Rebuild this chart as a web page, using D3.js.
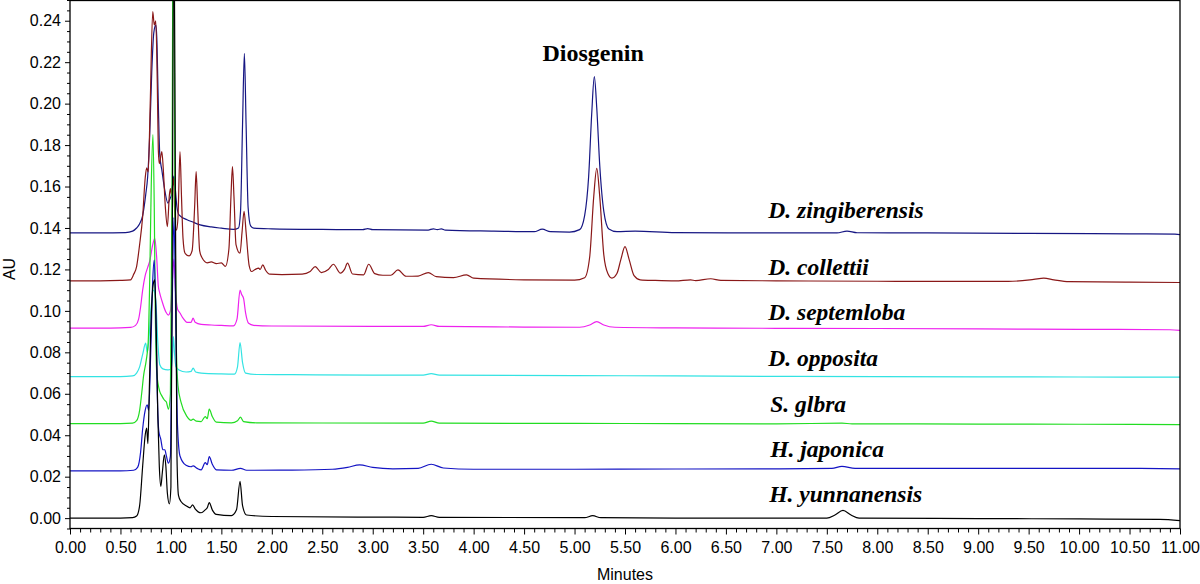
<!DOCTYPE html>
<html>
<head>
<meta charset="utf-8">
<script src="https://cdn.jsdelivr.net/npm/d3@7"></script>
<style>
  body { margin: 0; background: #fff; }
  svg { display: block; }
</style>
</head>
<body>
<svg id="chart" width="1200" height="584"></svg>
<script>
// ---------------- DATA ----------------
const seriesNames = ["D. zingiberensis", "D. collettii", "D. septemloba", "D. opposita", "S. glbra", "H. japonica", "H. yunnanensis"];

// [minutes, AU]
const zingiberensis = [[0,0.1376],[0.3,0.1376],[0.55,0.1378],[0.62,0.1385],[0.66,0.1400],[0.69,0.1420],[0.72,0.1460],[0.75,0.1560],[0.77,0.1650],[0.79,0.1850],[0.81,0.2150],[0.83,0.2340],[0.85,0.2380],[0.86,0.2320],[0.875,0.2000],[0.89,0.1750],[0.91,0.1680],[0.94,0.1580],[0.97,0.1520],[0.99,0.1540],[1.005,0.1560],[1.02,0.1620],[1.03,0.1650],[1.045,0.1580],[1.06,0.1500],[1.08,0.1463],[1.16,0.1440],[1.21,0.1430],[1.29,0.1415],[1.40,0.1405],[1.50,0.1399],[1.62,0.1393],[1.67,0.1400],[1.69,0.1480],[1.71,0.1900],[1.728,0.2243],[1.745,0.1900],[1.765,0.1500],[1.79,0.1410],[1.82,0.1399],[2.0,0.1396],[2.5,0.1393],[2.9,0.1392],[2.95,0.1397],[3.0,0.1392],[3.55,0.1390],[3.6,0.1396],[3.64,0.1392],[3.68,0.1396],[3.72,0.1390],[4.2,0.1385],[4.6,0.1382],[4.68,0.1394],[4.76,0.1382],[4.95,0.1380],[5.05,0.1392],[5.10,0.1460],[5.14,0.1650],[5.17,0.1950],[5.196,0.2130],[5.22,0.1980],[5.25,0.1700],[5.29,0.1480],[5.34,0.1395],[5.42,0.1382],[5.6,0.1385],[6.0,0.1378],[7.0,0.1376],[7.6,0.1376],[7.70,0.1385],[7.80,0.1377],[8.5,0.1376],[9.5,0.1374],[10.5,0.1372],[10.95,0.1370],[11.0,0.1368]];

const collettii = [[0,0.1145],[0.3,0.1145],[0.5,0.1147],[0.60,0.1150],[0.63,0.1175],[0.66,0.1214],[0.69,0.1320],[0.72,0.1455],[0.745,0.1640],[0.76,0.1690],[0.775,0.1670],[0.795,0.2000],[0.82,0.2444],[0.835,0.2380],[0.85,0.2400],[0.865,0.2100],[0.875,0.1780],[0.885,0.1710],[0.91,0.1768],[0.925,0.1680],[0.945,0.1500],[0.965,0.1407],[0.985,0.1560],[0.995,0.1590],[1.005,0.1560],[1.015,0.1600],[1.025,0.1640],[1.04,0.1450],[1.055,0.1390],[1.07,0.1450],[1.09,0.1768],[1.105,0.1550],[1.12,0.1350],[1.14,0.1278],[1.18,0.1265],[1.21,0.1290],[1.235,0.1500],[1.25,0.1672],[1.265,0.1500],[1.285,0.1290],[1.31,0.1255],[1.36,0.1232],[1.40,0.1236],[1.45,0.1228],[1.50,0.1232],[1.54,0.1215],[1.575,0.1300],[1.595,0.1550],[1.61,0.1696],[1.625,0.1550],[1.645,0.1320],[1.685,0.1278],[1.705,0.1380],[1.725,0.1480],[1.745,0.1380],[1.775,0.1220],[1.80,0.1190],[1.835,0.1200],[1.87,0.1206],[1.885,0.1200],[1.91,0.1222],[1.94,0.1195],[1.98,0.1177],[2.1,0.1175],[2.3,0.1177],[2.38,0.1190],[2.43,0.1214],[2.49,0.1185],[2.56,0.1200],[2.61,0.1225],[2.68,0.1182],[2.72,0.1200],[2.75,0.1230],[2.80,0.1178],[2.91,0.1174],[2.96,0.1225],[3.02,0.1180],[3.10,0.1172],[3.18,0.1172],[3.25,0.1198],[3.33,0.1167],[3.45,0.1168],[3.55,0.1185],[3.63,0.1165],[3.80,0.1160],[3.93,0.1174],[4.0,0.1158],[4.5,0.1150],[5.0,0.1148],[5.10,0.1160],[5.15,0.1260],[5.19,0.1550],[5.22,0.1688],[5.25,0.1550],[5.29,0.1270],[5.33,0.1180],[5.37,0.1158],[5.42,0.1180],[5.46,0.1250],[5.50,0.1310],[5.54,0.1250],[5.59,0.1170],[5.65,0.1150],[5.8,0.1147],[6.0,0.1145],[6.15,0.1150],[6.2,0.1146],[6.35,0.1155],[6.45,0.1147],[7.0,0.1145],[8.0,0.1143],[9.3,0.1142],[9.55,0.1152],[9.65,0.1158],[9.75,0.1150],[9.9,0.1141],[10.5,0.1139],[11.0,0.1137]];

const septemloba = [[0,0.0917],[0.4,0.0917],[0.6,0.0920],[0.65,0.0930],[0.68,0.0960],[0.70,0.1020],[0.72,0.1100],[0.745,0.1170],[0.77,0.1210],[0.79,0.1240],[0.82,0.1320],[0.84,0.1350],[0.86,0.1250],[0.875,0.1120],[0.89,0.1085],[0.91,0.1050],[0.95,0.0995],[0.975,0.0980],[0.995,0.1000],[1.015,0.1150],[1.03,0.1250],[1.045,0.1100],[1.065,0.1010],[1.09,0.0990],[1.12,0.0965],[1.16,0.0945],[1.20,0.0945],[1.22,0.0965],[1.24,0.0945],[1.30,0.0935],[1.40,0.0932],[1.50,0.0930],[1.62,0.0928],[1.655,0.0960],[1.685,0.1100],[1.70,0.1080],[1.72,0.1060],[1.74,0.0990],[1.77,0.0940],[1.82,0.0930],[2.0,0.0927],[3.0,0.0925],[3.5,0.0925],[3.58,0.0933],[3.66,0.0925],[4.5,0.0922],[5.05,0.0921],[5.15,0.0932],[5.22,0.0948],[5.29,0.0932],[5.4,0.0921],[6.0,0.0918],[7.0,0.0916],[8.0,0.0915],[9.0,0.0913],[10.0,0.0911],[10.9,0.0909],[11.0,0.0906]];

const opposita = [[0,0.0683],[0.5,0.0683],[0.62,0.0686],[0.66,0.0700],[0.69,0.0730],[0.72,0.0790],[0.75,0.0844],[0.765,0.0800],[0.78,0.0850],[0.80,0.1000],[0.83,0.1100],[0.85,0.1050],[0.87,0.0850],[0.89,0.0740],[0.92,0.0720],[0.97,0.0715],[1.0,0.0720],[1.015,0.0780],[1.025,0.0876],[1.035,0.0800],[1.05,0.0730],[1.08,0.0715],[1.15,0.0705],[1.2,0.0708],[1.22,0.0724],[1.245,0.0705],[1.30,0.0700],[1.50,0.0696],[1.63,0.0695],[1.66,0.0730],[1.685,0.0847],[1.71,0.0750],[1.74,0.0700],[1.85,0.0693],[2.2,0.0692],[3.0,0.0690],[3.5,0.0690],[3.58,0.0697],[3.66,0.0690],[5.0,0.0688],[6.0,0.0686],[7.0,0.0684],[8.0,0.0683],[9.0,0.0682],[10.0,0.0681],[11.0,0.0680]];

const glbra = [[0,0.0456],[0.5,0.0456],[0.62,0.0458],[0.66,0.0470],[0.69,0.0520],[0.71,0.0600],[0.73,0.0690],[0.755,0.0760],[0.775,0.0850],[0.79,0.1150],[0.805,0.1600],[0.822,0.1850],[0.835,0.1500],[0.845,0.1000],[0.86,0.0700],[0.89,0.0610],[0.91,0.0590],[0.935,0.0570],[0.955,0.0560],[0.975,0.0526],[0.995,0.0600],[1.01,0.1500],[1.025,0.3200],[1.04,0.1500],[1.055,0.0800],[1.07,0.0640],[1.10,0.0560],[1.16,0.0490],[1.20,0.0472],[1.22,0.0478],[1.25,0.0468],[1.30,0.0466],[1.34,0.0490],[1.36,0.0480],[1.38,0.0526],[1.41,0.0490],[1.45,0.0463],[1.60,0.0460],[1.66,0.0470],[1.69,0.0487],[1.72,0.0466],[1.85,0.0460],[2.5,0.0459],[3.5,0.0458],[3.58,0.0468],[3.66,0.0458],[5.0,0.0457],[6.0,0.0456],[7.0,0.0455],[7.65,0.0458],[7.75,0.0455],[9.0,0.0454],[10.0,0.0453],[11.0,0.0451]];

const japonica = [[0,0.0228],[0.5,0.0228],[0.63,0.0231],[0.67,0.0245],[0.70,0.0320],[0.72,0.0430],[0.745,0.0520],[0.765,0.0547],[0.78,0.0520],[0.80,0.0800],[0.82,0.1150],[0.835,0.1245],[0.85,0.1000],[0.865,0.0600],[0.88,0.0420],[0.90,0.0380],[0.92,0.0330],[0.94,0.0330],[0.955,0.0300],[0.975,0.0265],[0.995,0.0300],[1.01,0.0900],[1.03,0.1450],[1.05,0.0900],[1.065,0.0450],[1.09,0.0300],[1.15,0.0255],[1.20,0.0248],[1.22,0.0252],[1.26,0.0240],[1.30,0.0233],[1.34,0.0268],[1.36,0.0258],[1.38,0.0297],[1.41,0.0260],[1.45,0.0233],[1.60,0.0231],[1.69,0.0240],[1.75,0.0231],[2.2,0.0232],[2.6,0.0236],[2.75,0.0245],[2.87,0.0257],[3.0,0.0245],[3.2,0.0238],[3.45,0.0240],[3.58,0.0260],[3.70,0.0242],[4.0,0.0236],[5.0,0.0236],[6.0,0.0237],[7.0,0.0238],[7.55,0.0240],[7.65,0.0250],[7.78,0.0240],[8.5,0.0240],[9.5,0.0240],[10.5,0.0240],[11.0,0.0238]];

const yunnanensis = [[0,0.0],[0.5,0.0],[0.62,0.0002],[0.66,0.0010],[0.69,0.0060],[0.72,0.0250],[0.745,0.0400],[0.76,0.0434],[0.772,0.0360],[0.785,0.0600],[0.80,0.0900],[0.825,0.1130],[0.84,0.1150],[0.855,0.0900],[0.87,0.0500],[0.885,0.0250],[0.90,0.0153],[0.915,0.0220],[0.935,0.0305],[0.95,0.0250],[0.965,0.0120],[0.985,0.0069],[1.0,0.0150],[1.015,0.1500],[1.03,0.3000],[1.045,0.1500],[1.06,0.0300],[1.075,0.0110],[1.10,0.0080],[1.15,0.0060],[1.19,0.0050],[1.215,0.0064],[1.24,0.0045],[1.30,0.0026],[1.34,0.0040],[1.36,0.0050],[1.38,0.0075],[1.41,0.0040],[1.45,0.0018],[1.60,0.0012],[1.65,0.0040],[1.685,0.0177],[1.71,0.0060],[1.75,0.0015],[2.0,0.0008],[3.0,0.0005],[3.5,0.0004],[3.58,0.0012],[3.66,0.0004],[5.1,0.0002],[5.18,0.0012],[5.26,0.0002],[6.0,0.0],[7.0,0.0],[7.5,0.0],[7.58,0.0015],[7.66,0.0037],[7.74,0.0015],[7.82,0.0],[9.0,-0.0002],[10.0,-0.0004],[10.8,-0.0006],[11.0,-0.0012]];

const seriesData = [zingiberensis, collettii, septemloba, opposita, glbra, japonica, yunnanensis];
const seriesColors = ["#161683", "#8a1818", "#ee22ee", "#33e3e3", "#22dd22", "#1414c4", "#000000"];

// label anchors (minutes, AU)
const labelT = [6.92, 6.92, 6.92, 6.92, 6.94, 6.94, 6.93];
const labelV = [0.1447, 0.1173, 0.0956, 0.0735, 0.0513, 0.0296, 0.0079];
const peakLabel = "Diosgenin";
const peakLabelT = 5.184, peakLabelV = 0.2207;

const xMajorTicks = [0,0.5,1,1.5,2,2.5,3,3.5,4,4.5,5,5.5,6,6.5,7,7.5,8,8.5,9,9.5,10,10.5,11];
const yMajorTicks = [0,0.02,0.04,0.06,0.08,0.10,0.12,0.14,0.16,0.18,0.20,0.22,0.24];
const xTitle = "Minutes", yTitle = "AU";

// ---------------- DRAWING ----------------
const svg = d3.select("#chart");
const x = d3.scaleLinear().domain([0, 11]).range([70, 1180]);
const y = d3.scaleLinear().domain([-0.005, 0.25]).range([528.5, 0]);

const tickFont = "'Liberation Sans', Arial, Helvetica, sans-serif";
const serif = "'Liberation Serif', 'Times New Roman', serif";

svg.append("rect").attr("width", 1200).attr("height", 584).attr("fill", "#fff");

svg.append("defs").append("clipPath").attr("id", "plotclip")
  .append("rect").attr("x", 70).attr("y", 0).attr("width", 1110).attr("height", 528.5);

// minor ticks
const xMinor = d3.range(0, 111).map(i => i / 10).filter(v => Math.abs(v * 2 - Math.round(v * 2)) > 1e-6);
const yMinor = d3.range(-1, 51).map(i => i * 0.005).filter(v => Math.abs(v / 0.02 - Math.round(v / 0.02)) > 1e-6);

const gxMinor = svg.append("g").attr("transform", "translate(0,528.5)")
  .call(d3.axisBottom(x).tickValues(xMinor).tickSize(4).tickFormat(""));
const gx = svg.append("g").attr("transform", "translate(0,528.5)")
  .call(d3.axisBottom(x).tickValues(xMajorTicks).tickSize(6).tickPadding(7).tickFormat(d3.format(".2f")));
const gyMinor = svg.append("g").attr("transform", "translate(70,0)")
  .call(d3.axisLeft(y).tickValues(yMinor).tickSize(3).tickFormat(""));
const gy = svg.append("g").attr("transform", "translate(70,0)")
  .call(d3.axisLeft(y).tickValues(yMajorTicks).tickSize(5).tickPadding(4).tickFormat(d3.format(".2f")));

[gx, gxMinor, gy, gyMinor].forEach(g => {
  g.select(".domain").remove();
  g.selectAll("line").attr("stroke", "#000").attr("stroke-width", 1);
  g.selectAll("text").attr("font-family", tickFont).attr("font-size", 16).attr("fill", "#000");
});

// lines
const line = d3.line().x(d => x(d[0])).y(d => y(d[1])).curve(d3.curveMonotoneX);
const plot = svg.append("g").attr("clip-path", "url(#plotclip)");
seriesData.forEach((s, i) => {
  plot.append("path").datum(s)
    .attr("d", line)
    .attr("fill", "none")
    .attr("stroke", seriesColors[i])
    .attr("stroke-width", 1.2)
    .attr("stroke-linejoin", "round");
});

// frame
svg.append("rect").attr("x", 70).attr("y", 0.5).attr("width", 1110).attr("height", 528)
  .attr("fill", "none").attr("stroke", "#000").attr("stroke-width", 1.3);

// series labels
seriesNames.forEach((n, i) => {
  svg.append("text")
    .attr("x", x(labelT[i])).attr("y", y(labelV[i]))
    .attr("font-family", serif).attr("font-size", 23.5)
    .attr("font-weight", "bold").attr("font-style", "italic")
    .attr("fill", "#000").text(n);
});

// peak label
svg.append("text")
  .attr("x", x(peakLabelT)).attr("y", y(peakLabelV))
  .attr("text-anchor", "middle")
  .attr("font-family", serif).attr("font-size", 24).attr("font-weight", "bold")
  .attr("fill", "#000").text(peakLabel);

// axis titles
svg.append("text").attr("x", 625).attr("y", 580).attr("text-anchor", "middle")
  .attr("font-family", tickFont).attr("font-size", 16).attr("fill", "#000").text(xTitle);
svg.append("text").attr("transform", "translate(15,269) rotate(-90)").attr("text-anchor", "middle")
  .attr("font-family", tickFont).attr("font-size", 16).attr("fill", "#000").text(yTitle);
</script>
</body>
</html>
